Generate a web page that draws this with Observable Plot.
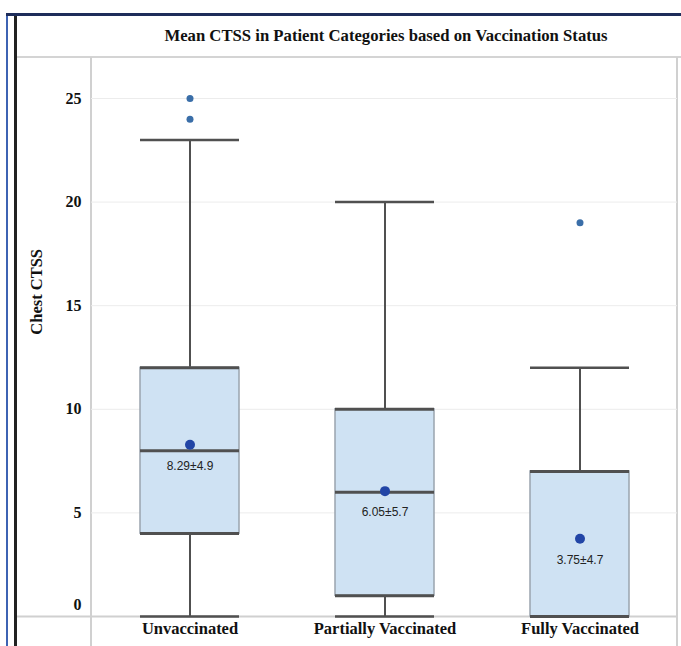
<!DOCTYPE html>
<html>
<head>
<meta charset="utf-8">
<script src="https://cdn.jsdelivr.net/npm/d3@7"></script>
<script src="https://cdn.jsdelivr.net/npm/@observablehq/plot@0.6"></script>
<style>
  html, body { margin: 0; padding: 0; background: #fff; }
  #wrap { position: relative; width: 681px; height: 646px; overflow: hidden; background: #fff; }
  .ln { position: absolute; }
  #title { position: absolute; left: 93px; width: 586px; top: 26px; text-align: center; white-space: nowrap;
           font-family: "Liberation Serif", "DejaVu Serif", serif; font-weight: bold; font-size: 16.7px; color: #111; }
  #chart { position: absolute; left: 17px; top: 58px; }
</style>
</head>
<body>
<div id="wrap">
  <div class="ln" style="left:6px;top:14px;width:1.5px;height:632px;background:#3d63b3"></div>
  <div class="ln" style="left:14px;top:14px;width:2.5px;height:632px;background:#222"></div>
  <div class="ln" style="left:6px;top:13px;width:675px;height:2.5px;background:#1e2d5a"></div>
  <div class="ln" style="left:17px;top:56px;width:664px;height:2px;background:#d4d4d4"></div>
  <div class="ln" style="left:90px;top:57px;width:1.5px;height:589px;background:#d0d0d0"></div>
  <div class="ln" style="left:676px;top:57px;width:1.5px;height:589px;background:#d0d0d0"></div>
  <div id="title">Mean CTSS in Patient Categories based on Vaccination Status</div>
  <div id="chart"></div>
</div>
<script>
const categories = ["Unvaccinated", "Partially Vaccinated", "Fully Vaccinated"];
const whiskerLow = [0, 0, 0];
const q1 = [4, 1, 0];
const median = [8, 6, 0];
const q3 = [12, 10, 7];
const whiskerHigh = [23, 20, 12];
const means = [8.29, 6.05, 3.75];
const sds = [4.9, 5.7, 4.7];
const outlierCats = ["Unvaccinated", "Unvaccinated", "Fully Vaccinated"];
const outlierValues = [25, 24, 19];
const yTicks = [0, 5, 10, 15, 20, 25];

const boxes = categories.map((c, i) => ({
  cat: c, lo: whiskerLow[i], q1: q1[i], med: median[i], q3: q3[i], hi: whiskerHigh[i],
  mean: means[i], sd: sds[i], label: `${means[i].toFixed(2)}±${sds[i]}`
}));
const outliers = outlierCats.map((c, i) => ({cat: c, v: outlierValues[i]}));

const inset = 48;
const dark = "#505050";
const serif = "Liberation Serif, serif";

const chart = Plot.plot({
  width: 664,
  height: 588,
  marginLeft: 74,
  marginRight: 4,
  marginTop: 40,
  marginBottom: 30,
  x: {domain: categories, type: "band", padding: 0, label: null},
  y: {domain: [0, 25], label: null},
  style: {background: "transparent"},
  marks: [
    Plot.gridY(yTicks.filter(d => d > 0), {stroke: "#ececec", strokeOpacity: 1}),
    Plot.ruleY([0], {stroke: "#d0d0d0", strokeWidth: 2, insetLeft: -74}),
    // whiskers
    Plot.ruleX(boxes, {x: "cat", y1: "lo", y2: "q1", stroke: dark, strokeWidth: 2}),
    Plot.ruleX(boxes, {x: "cat", y1: "q3", y2: "hi", stroke: dark, strokeWidth: 2}),
    // boxes
    Plot.barY(boxes, {x: "cat", y1: "q1", y2: "q3", fill: "#cfe2f3", stroke: "#9aa4ae", strokeWidth: 1.5, insetLeft: inset, insetRight: inset}),
    Plot.tickY(boxes, {x: "cat", y: "q1", stroke: dark, strokeWidth: 3, insetLeft: inset, insetRight: inset}),
    Plot.tickY(boxes, {x: "cat", y: "q3", stroke: dark, strokeWidth: 3, insetLeft: inset, insetRight: inset}),
    Plot.tickY(boxes, {x: "cat", y: "med", stroke: dark, strokeWidth: 3, insetLeft: inset, insetRight: inset}),
    // caps
    Plot.tickY(boxes, {x: "cat", y: "hi", stroke: dark, strokeWidth: 2.5, insetLeft: inset, insetRight: inset}),
    Plot.tickY(boxes, {x: "cat", y: "lo", stroke: dark, strokeWidth: 2.5, insetLeft: inset, insetRight: inset}),
    // outliers
    Plot.dot(outliers, {x: "cat", y: "v", r: 3.5, fill: "#3a6ea8", stroke: "none"}),
    // means
    Plot.dot(boxes, {x: "cat", y: "mean", r: 5, fill: "#2245a6", stroke: "none"}),
    Plot.text(boxes, {x: "cat", y: "mean", text: "label", dy: 21, fontSize: 12, fill: "#222", fontFamily: "Liberation Sans, Arial, sans-serif"}),
    // axes
    Plot.axisY(yTicks.filter(d => d > 0), {tickSize: 0, tickPadding: 10, fontSize: 16, fontWeight: "bold", fontFamily: serif, fill: "#111", label: null}),
    Plot.axisY([0], {tickSize: 0, tickPadding: 10, dy: -12, fontSize: 16, fontWeight: "bold", fontFamily: serif, fill: "#111", label: null}),
    Plot.axisX({tickSize: 0, tickPadding: 6, fontSize: 16.5, fontWeight: "bold", fontFamily: serif, fill: "#111", label: null}),
    Plot.text(["Chest CTSS"], {frameAnchor: "left", y: () => 13.6, text: d => d, rotate: -90, dx: -55, fontSize: 16.5, fontWeight: "bold", fontFamily: serif, fill: "#111"})
  ]
});
document.getElementById("chart").appendChild(chart);
</script>
</body>
</html>
